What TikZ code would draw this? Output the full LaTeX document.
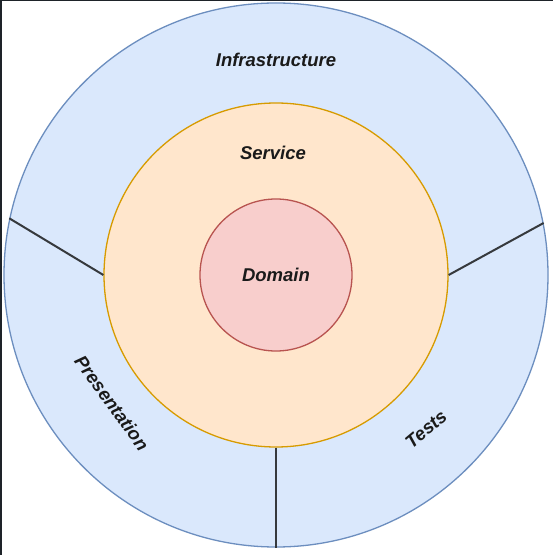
\documentclass[tikz,border=0pt]{standalone}
\usepackage{fontspec}
\setmainfont{Liberation Sans}
\definecolor{infraFill}{HTML}{DAE8FC}
\definecolor{infraLine}{HTML}{6C8EBF}
\definecolor{servFill}{HTML}{FFE6CC}
\definecolor{servLine}{HTML}{D79B00}
\definecolor{domFill}{HTML}{F8CECC}
\definecolor{domLine}{HTML}{B85450}
\definecolor{divLine}{HTML}{36393D}
\definecolor{txt}{HTML}{1A1A1A}
\definecolor{frameDark}{HTML}{1E2329}
\begin{document}
\begin{tikzpicture}[x=1pt,y=1pt,
  ring/.style={circle, inner sep=0pt, line width=1.3pt},
  label/.style={font=\fontsize{18.5}{22}\selectfont\bfseries\itshape, text=txt, inner sep=0pt},
  divider/.style={draw=divLine, line width=2pt}]
\useasboundingbox (0,0) rectangle (553,555);
\fill[white] (0,0) rectangle (553,555);
\fill[frameDark] (0,0) rectangle (2,555);
\fill[frameDark] (0,554) rectangle (553,555);
\node[ring, draw=infraLine, fill=infraFill, minimum size=544] (outer) at (276,280) {};
\node[ring, draw=servLine, fill=servFill, minimum size=344] (service) at (276,280) {};
\node[ring, draw=domLine, fill=domFill, minimum size=152] (domain) at (276,280) {};
\coordinate (lend) at (outer.168.8);
\coordinate (rend) at (outer.11.2);
\draw[divider] (service.west) -- (lend);
\draw[divider] (service.east) -- (rend);
\draw[divider] (service.south) -- (outer.south);
\node[label] (tinfra) at (276,495) {Infrastructure};
\node[label] (tserv) at (273,402) {Service};
\node[label] (tdom) at (276,280) {Domain};
\node[label, rotate=-54] (tpres) at (112,152) {Presentation};
\node[label, rotate=40] (ttests) at (426,126) {Tests};
\end{tikzpicture}
\end{document}
